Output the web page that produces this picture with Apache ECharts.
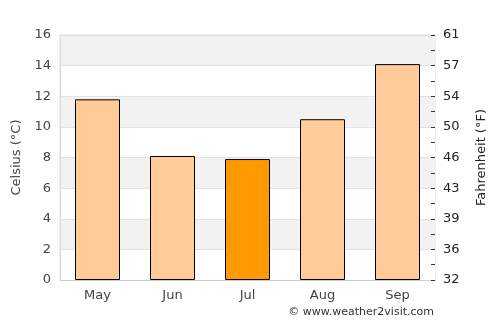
<!DOCTYPE html>
<html>
<head>
<meta charset="utf-8">
<script src="https://cdn.jsdelivr.net/npm/echarts@6/dist/echarts.min.js"></script>
<style>
    html, body { margin: 0; padding: 0; background: #fff; }
    #main { width: 500px; height: 325px; }
</style>
</head>
<body>
<div id="main"></div>
<script>
var months = ['May', 'Jun', 'Jul', 'Aug', 'Sep'];
var celsius = [11.8, 8.1, 7.9, 10.5, 14.1];
var highlight = 'Jul';
var fahrenheitLabels = ['32', '36', '39', '43', '46', '50', '54', '57', '61'];

var chart = echarts.init(document.getElementById('main'));

var font = 'DejaVu Sans';

var option = {
    animation: false,
    textStyle: { fontFamily: font },
    grid: {
        left: 60,
        right: 65,
        top: 35,
        bottom: 45,
        show: true,
        borderColor: '#dddddd',
        borderWidth: 1
    },
    graphic: [{
        type: 'text',
        right: 66,
        top: 307,
        style: {
            text: '© www.weather2visit.com',
            fill: '#333',
            font: '11px "DejaVu Sans"'
        }
    }],
    xAxis: {
        type: 'category',
        data: months,
        axisLine: { lineStyle: { color: '#cccccc' } },
        axisTick: { show: false },
        axisLabel: { color: '#444', fontSize: 13, margin: 9, fontFamily: font }
    },
    yAxis: [{
        type: 'value',
        min: 0,
        max: 16,
        interval: 2,
        name: 'Celsius (°C)',
        nameLocation: 'middle',
        nameGap: 35,
        nameTextStyle: { color: '#444', fontSize: 13, fontFamily: font },
        axisLine: { show: true, lineStyle: { color: '#dddddd' } },
        axisTick: { show: false },
        axisLabel: { color: '#444', fontSize: 13, margin: 9, fontFamily: font },
        splitLine: { lineStyle: { color: '#e2e2e2' } },
        splitArea: { show: true, areaStyle: { color: ['#ffffff', '#f2f2f2'] } }
    }, {
        type: 'value',
        position: 'right',
        min: 0,
        max: 16,
        interval: 2,
        name: 'Fahrenheit (°F)',
        nameLocation: 'middle',
        nameGap: 40,
        nameTextStyle: { color: '#222', fontSize: 13, fontFamily: font },
        axisLine: { show: false },
        axisTick: { show: true, inside: true, length: 4, lineStyle: { color: '#333' } },
        minorTick: { show: true, splitNumber: 2, length: 4, lineStyle: { color: '#333' } },
        axisLabel: {
            color: '#222',
            fontSize: 13,
            margin: 8,
            fontFamily: font,
            formatter: function (value) {
                return fahrenheitLabels[Math.round(value / 2)];
            }
        },
        splitLine: { show: false }
    }],
    series: [{
        type: 'bar',
        barWidth: '60%',
        data: months.map(function (m, i) {
            return {
                value: celsius[i],
                itemStyle: { color: m === highlight ? '#ff9900' : '#ffcc99' }
            };
        }),
        itemStyle: { borderColor: '#000', borderWidth: 1 }
    }]
};

chart.setOption(option);
</script>
</body>
</html>
